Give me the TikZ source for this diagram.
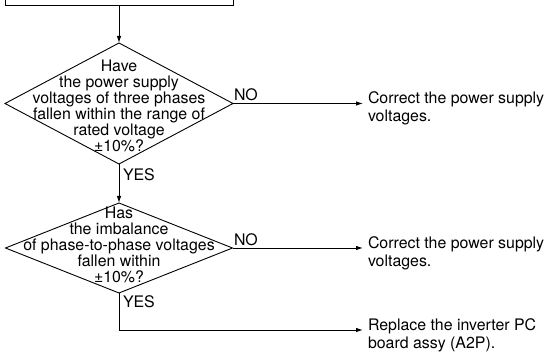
\documentclass[tikz,border=0pt]{standalone}
\usepackage{fontspec}
\setmainfont{TeX Gyre Heros}
\usetikzlibrary{shapes.geometric,arrows.meta}
\begin{document}
\begin{tikzpicture}[x=1pt,y=-1pt,
  every node/.style={inner sep=0pt,outer sep=0pt},
  box/.style={draw,line width=0.9pt},
  dia/.style={diamond,draw,line width=0.9pt,inner sep=0pt},
  qtext/.style={align=center,font=\fontsize{15.9}{16}\selectfont},
  rtext/.style={align=left,anchor=north west,outer xsep=5pt,font=\fontsize{15.9}{17.5}\selectfont},
  lbl/.style={font=\fontsize{15.9}{16}\selectfont},
  conn/.style={line width=0.9pt},
  arr/.style={conn,-{Latex[length=7pt,width=4.5pt]}}]
\useasboundingbox (0,0) rectangle (546,352);
\node (top) [box,minimum width=228pt,minimum height=40pt,anchor=south] at (119,5) {};
\node (d1) [dia,minimum width=228pt,minimum height=121pt] at (119,103.5) {};
\node (q1) [qtext] at (119,105.5) {Have\\the power supply\\voltages of three phases\\fallen within the range of\\rated voltage\\±10\%?};
\node (d2) [dia,minimum width=227pt,minimum height=90pt] at (119,248) {};
\node (q2) [qtext] at (119,245) {Has\\the imbalance\\of phase-to-phase voltages\\fallen within\\±10\%?};
\node (c1) [rtext] at (363,92) {Correct the power supply\\voltages.};
\node (c2) [rtext] at (363,237) {Correct the power supply\\voltages.};
\node (r3) [rtext] at (363,319) {Replace the inverter PC\\board assy (A2P).};
\node (no1) [lbl,anchor=south west] at (234,101) {NO};
\node (no2) [lbl,anchor=south west] at (234,246) {NO};
\node (yes1) [lbl,anchor=west] at (123,175) {YES};
\node (yes2) [lbl,anchor=west] at (123,302) {YES};
\coordinate (turn) at (119,330);
\draw[arr] (top.south) -- (d1.north);
\draw[arr] (d1.south) -- (d2.north);
\draw[arr] (d1.east) -- (d1.east -| c1.west);
\draw[arr] (d2.east) -- (d2.east -| c2.west);
\draw[arr] (d2.south) -- (turn) -- (turn -| r3.west);
\end{tikzpicture}
\end{document}
